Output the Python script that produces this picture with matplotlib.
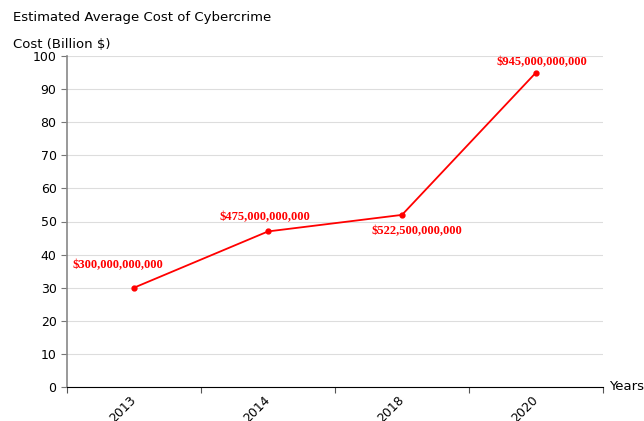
import matplotlib
matplotlib.use("Agg")
import matplotlib.pyplot as plt
from matplotlib.ticker import FixedLocator

# Data
years = ["2013", "2014", "2018", "2020"]
cost_billion = [30, 47, 52, 95]
point_labels = ["$300,000,000,000", "$475,000,000,000",
                "$522,500,000,000", "$945,000,000,000"]
label_offsets_px = [(-16, 23), (-3, 14), (15, -16), (6, 10)]

RED = "#ff0000"

fig = plt.figure(figsize=(6.44, 4.21), dpi=100)
ax = fig.add_axes([67/644, 34/421, 536/644, 331/421])

xs = list(range(len(years)))
ax.plot(xs, cost_billion, '-', color=RED, linewidth=1.3,
        marker='o', markersize=3.5, zorder=3)

for x, y, lab, (dx, dy) in zip(xs, cost_billion, point_labels, label_offsets_px):
    ax.annotate(lab, xy=(x, y), xytext=(dx, dy), textcoords='offset pixels',
                ha='center', va='center', color=RED, fontsize=9,
                fontweight='bold', family='Liberation Serif')

ax.set_xlim(-0.5, len(years) - 0.5)
ax.set_ylim(0, 100)
ax.set_yticks(range(0, 101, 10))
ax.yaxis.grid(True, color="#dddddd", linewidth=0.8)
ax.set_axisbelow(True)

# category ticks at band edges, labels at centres
ax.xaxis.set_major_locator(FixedLocator([i - 0.5 for i in range(len(years) + 1)]))
ax.xaxis.set_minor_locator(FixedLocator(xs))
ax.set_xticklabels([])
ax.set_xticklabels(years, minor=True, rotation=45, ha='right', va='center',
                   rotation_mode='anchor', fontsize=9)
ax.tick_params(axis='x', which='major', length=4, color='#555555')
ax.tick_params(axis='x', which='minor', length=0, pad=8)
ax.tick_params(axis='y', length=4, color='#777777', labelsize=9)

for s in ("top", "right"):
    ax.spines[s].set_visible(False)
ax.spines["left"].set_color("#888888")
ax.spines["left"].set_linewidth(1.2)
ax.spines["bottom"].set_color("black")

fig.text(13/644, 1 - 18/421, "Estimated Average Cost of Cybercrime",
         fontsize=9.5, va='center', ha='left')
fig.text(13/644, 1 - 44/421, "Cost (Billion $)",
         fontsize=9.5, va='center', ha='left')
fig.text(609/644, 1 - 387/421, "Years", fontsize=9.5, va='center', ha='left')

fig.savefig("out.png", dpi=100)
